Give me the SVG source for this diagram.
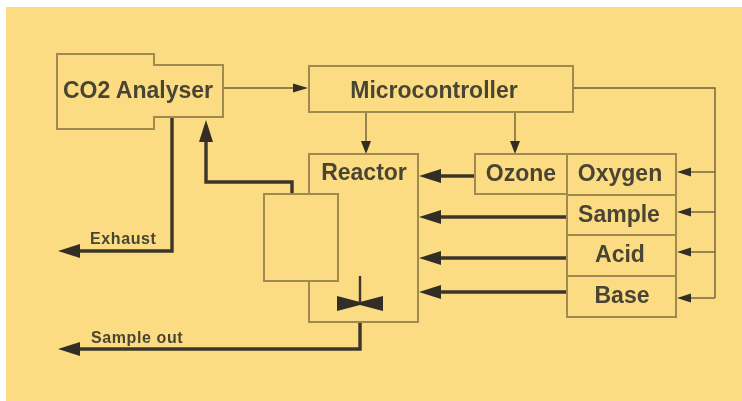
<svg xmlns="http://www.w3.org/2000/svg" width="742" height="401" viewBox="0 0 742 401">
<defs>
<filter id="soft" filterUnits="userSpaceOnUse" x="0" y="0" width="742" height="401"><feGaussianBlur stdDeviation="0.6"/></filter>
<style>
.box{fill:none;stroke:#a08a50;stroke-width:2}
.thin{fill:none;stroke:#6b5f3a;stroke-width:1.4}
.thick{fill:none;stroke:#3a352a;stroke-width:3.4}
.stem{fill:none;stroke:#3a352a;stroke-width:2.4}
.ah{fill:#332f25}
text{font-family:"Liberation Sans",Arial,sans-serif;font-weight:700;fill:#4a4535}
.t{font-size:23px}
.s{font-size:16px;letter-spacing:0.6px}
</style>
</defs>
<rect width="742" height="401" fill="#ffffff"/>
<rect x="6" y="7" width="736" height="394" fill="#fcdc82"/>
<g filter="url(#soft)">
<g id="connectors">
<path class="thin" d="M223 88H296"/><path class="ah" d="M308 88L293 83.500V92.500Z"/>
<path class="thin" d="M366 112V143"/><path class="ah" d="M366 154L361 141H371Z"/>
<path class="thin" d="M515 112V143"/><path class="ah" d="M515 154L510 141H520Z"/>
<path class="thin" d="M574 88H715V298"/>
<path class="thin" d="M690 172H715"/><path class="ah" d="M677 172L691 167.500V176.500Z"/>
<path class="thin" d="M690 212H715"/><path class="ah" d="M677 212L691 207.500V216.500Z"/>
<path class="thin" d="M690 252H715"/><path class="ah" d="M677 252L691 247.500V256.500Z"/>
<path class="thin" d="M690 298H715"/><path class="ah" d="M677 298L691 293.500V302.500Z"/>
<path class="thick" d="M475 176H438"/><path class="ah" d="M419 176L441 169V183Z"/>
<path class="thick" d="M567 217H438"/><path class="ah" d="M419 217L441 210V224Z"/>
<path class="thick" d="M567 258H438"/><path class="ah" d="M419 258L441 251V265Z"/>
<path class="thick" d="M567 292H438"/><path class="ah" d="M419 292L441 285V299Z"/>
<path class="thick" d="M172 117V251H78"/><path class="ah" d="M58 251L80 244V258Z"/>
<path class="thick" d="M360 322V349H78"/><path class="ah" d="M58 349L80 342V356Z"/>
<path class="thick" d="M292 193V182H206V140"/><path class="ah" d="M206 120L199 142H213Z"/>
</g>
<g id="co2-analyser">
<path class="box" d="M57 54H154V65H223V117H154V129H57Z"/>
<text class="t" x="63" y="98">CO2 Analyser</text>
</g>
<g id="microcontroller">
<rect class="box" x="309" y="66" width="264" height="46"/>
<text class="t" x="434" y="98" text-anchor="middle">Microcontroller</text>
</g>
<g id="reactor">
<path class="box" d="M309 194V154H418V322H309V281"/>
<text class="t" x="364" y="180" text-anchor="middle">Reactor</text>
</g>
<g id="vessel">
<rect class="box" x="264" y="194" width="74" height="87"/>
</g>
<g id="valve">
<path class="stem" d="M360 276V303"/>
<path class="ah" d="M337 296L360 302V305L337 311ZM383 296L360 302V305L383 311Z"/>
</g>
<g id="ozone">
<path class="box" d="M567 154H475V194H567"/>
<text class="t" x="521" y="181" text-anchor="middle">Ozone</text>
</g>
<g id="oxygen">
<rect class="box" x="567" y="154" width="109" height="41"/>
<text class="t" x="620" y="181" text-anchor="middle">Oxygen</text>
</g>
<g id="sample">
<rect class="box" x="567" y="195" width="109" height="40"/>
<text class="t" x="619" y="222" text-anchor="middle">Sample</text>
</g>
<g id="acid">
<rect class="box" x="567" y="235" width="109" height="41"/>
<text class="t" x="620" y="262" text-anchor="middle">Acid</text>
</g>
<g id="base">
<rect class="box" x="567" y="276" width="109" height="41"/>
<text class="t" x="622" y="303" text-anchor="middle">Base</text>
</g>
<g id="labels">
<text class="s" x="90" y="244">Exhaust</text>
<text class="s" x="91" y="343">Sample out</text>
</g>
</g>
</svg>
